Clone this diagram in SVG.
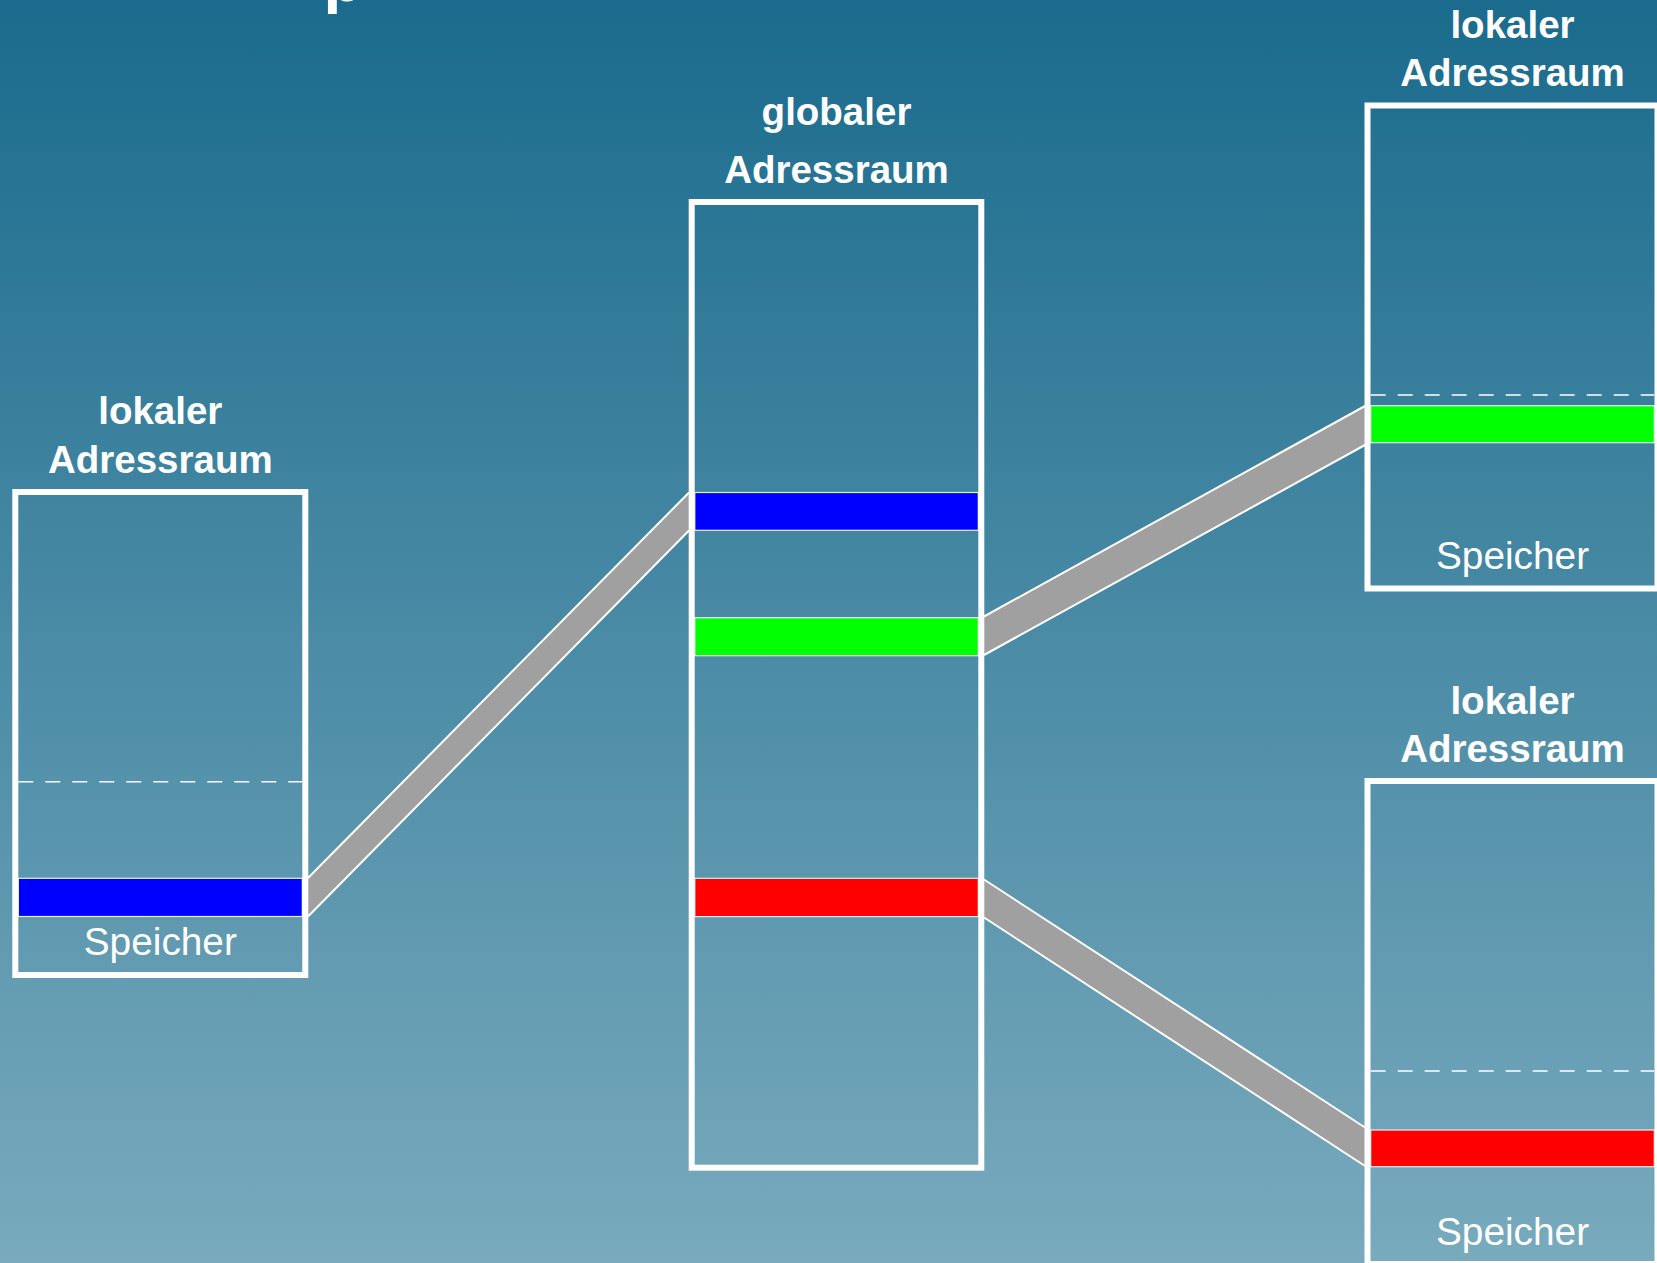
<svg xmlns="http://www.w3.org/2000/svg" width="1657" height="1263" viewBox="0 0 1657 1263">
  <defs>
    <linearGradient id="bg" x1="0" y1="0" x2="0" y2="1">
      <stop offset="0" stop-color="#1a6b8d"/>
      <stop offset="1" stop-color="#79aabd"/>
    </linearGradient>
    <style>
      .frame { fill: none; stroke: #ffffff; stroke-width: 6; }
      .dash { stroke: #ffffff; stroke-width: 1.5; stroke-dasharray: 15 12; fill: none; }
      .band { stroke: #e8eef2; stroke-width: 1.2; }
      .blue { fill: #0000ff; }
      .green { fill: #00ff00; }
      .red { fill: #ff0000; }
      .link { fill: #a0a0a0; stroke: none; }
      .edge { stroke: #ffffff; stroke-width: 2; fill: none; }
      .title { font-family: "Liberation Sans", Arial, sans-serif; font-weight: bold; font-size: 38.5px; fill: #ffffff; text-anchor: middle; }
      .mem { font-family: "Liberation Sans", Arial, sans-serif; font-size: 38.8px; fill: #ffffff; text-anchor: middle; }
      .head { font-family: "Liberation Sans", Arial, sans-serif; font-weight: bold; font-size: 64px; fill: #ffffff; }
    </style>
  </defs>

  <rect x="0" y="0" width="1657" height="1263" fill="url(#bg)"/>

  <!-- heading, mostly above the visible area -->
  <text class="head" x="323.5" y="0.5">p</text>

  <!-- mappings between local and global address spaces -->
  <g id="connectors">
    <g id="map-blue">
      <polygon class="link" points="308,878 689,492.5 689,530.5 308,916.5"/>
      <line class="edge" x1="308" y1="878" x2="689" y2="492.5"/>
      <line class="edge" x1="308" y1="916.5" x2="689" y2="530.5"/>
    </g>
    <g id="map-green">
      <polygon class="link" points="984,616.5 1365,406 1365,445 984,655"/>
      <line class="edge" x1="984" y1="616.5" x2="1365" y2="406"/>
      <line class="edge" x1="984" y1="655" x2="1365" y2="445"/>
    </g>
    <g id="map-red">
      <polygon class="link" points="984,879.5 1365,1127.5 1365,1166 984,917.5"/>
      <line class="edge" x1="984" y1="879.5" x2="1365" y2="1127.5"/>
      <line class="edge" x1="984" y1="917.5" x2="1365" y2="1166"/>
    </g>
  </g>

  <!-- local address space, left -->
  <g id="local-left">
    <text class="title" x="160.3" y="424">lokaler</text>
    <text class="title" x="160.3" y="473">Adressraum</text>
    <line class="dash" x1="18.3" y1="781.7" x2="302.3" y2="781.7"/>
    <rect class="band blue" x="18.3" y="878.3" width="284" height="38.2"/>
    <text class="mem" x="160.3" y="955">Speicher</text>
    <rect class="frame" x="15.3" y="492" width="290" height="483"/>
  </g>

  <!-- global address space -->
  <g id="global">
    <text class="title" x="836.5" y="125">globaler</text>
    <text class="title" x="836.5" y="183">Adressraum</text>
    <rect class="band blue" x="694.8" y="492.5" width="283.5" height="37.8"/>
    <rect class="band green" x="694.8" y="617.7" width="283.5" height="38"/>
    <rect class="band red" x="694.8" y="878.3" width="283.5" height="38.3"/>
    <rect class="frame" x="691.7" y="202" width="289.6" height="965.7"/>
  </g>

  <!-- local address space, top right -->
  <g id="local-top-right">
    <text class="title" x="1512.5" y="38">lokaler</text>
    <text class="title" x="1512.5" y="86">Adressraum</text>
    <line class="dash" x1="1370.7" y1="395" x2="1654.3" y2="395"/>
    <rect class="band green" x="1370.7" y="405.7" width="283.6" height="37"/>
    <text class="mem" x="1512.5" y="569">Speicher</text>
    <rect class="frame" x="1367.5" y="105.5" width="290" height="483"/>
  </g>

  <!-- local address space, bottom right -->
  <g id="local-bottom-right">
    <text class="title" x="1512.5" y="713.5">lokaler</text>
    <text class="title" x="1512.5" y="761.5">Adressraum</text>
    <line class="dash" x1="1370.7" y1="1071" x2="1654.3" y2="1071"/>
    <rect class="band red" x="1370.7" y="1130" width="283.6" height="36.7"/>
    <text class="mem" x="1512.5" y="1245">Speicher</text>
    <rect class="frame" x="1367.5" y="781" width="290" height="483"/>
  </g>
</svg>
